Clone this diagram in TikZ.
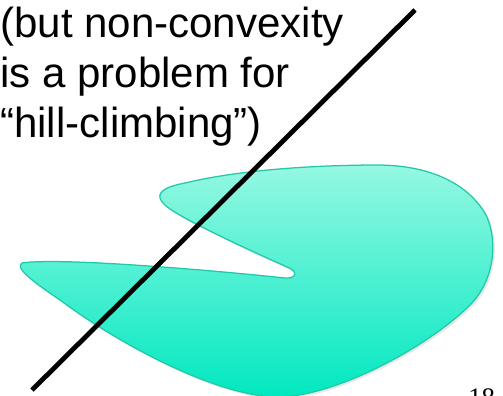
\documentclass[tikz,border=0pt]{standalone}
\usepackage{fontspec}
\setmainfont{Liberation Sans}
\newfontfamily\pagefont{Liberation Serif}
\usetikzlibrary{shadows}
\definecolor{Ink}{HTML}{000000}
\definecolor{AquaTop}{HTML}{95F8E2}
\definecolor{AquaBottom}{HTML}{00E8C0}
\definecolor{AquaEdge}{HTML}{22C9A8}
\tikzset{
  remark/.style={
    anchor=north west, inner sep=0pt, align=left, text=Ink,
    font=\fontsize{29.9}{35.6}\selectfont
  },
  blob/.style={
    draw=AquaEdge, line width=0.9pt, top color=AquaTop, bottom color=AquaBottom,
    drop shadow={opacity=0.18, shadow xshift=1.5pt, shadow yshift=-1.5pt}
  },
  cutline/.style={draw=Ink, line width=3.4pt},
  pagenum/.style={anchor=base west, inner sep=0pt, font=\pagefont\fontsize{19}{19}\selectfont}
}
\begin{document}
\begin{tikzpicture}[x=0.025cm,y=-0.025cm]
  \useasboundingbox (0,0) rectangle (503,395);
  \clip (0,0) rectangle (503,395);
  % the non-convex region
  \path[blob] (22,263)
    .. controls (60,257) and (220,271) .. (285,278)
    .. controls (297,279) and (298,271) .. (287,267)
    .. controls (240,246) and (176,216) .. (165,205)
    .. controls (155,196) and (158,188) .. (185,183)
    .. controls (230,172) and (300,165) .. (380,165)
    .. controls (440,166) and (472,190) .. (486,215)
    .. controls (498,240) and (495,280) .. (470,305)
    .. controls (430,345) and (340,395) .. (280,397)
    .. controls (220,398) and (120,345) .. (60,300)
    .. controls (35,283) and (14,268) .. (22,263) -- cycle;
  \node[remark] (note) at (0,7) {(but non-convexity\\is a problem for\\“hill-climbing”)};
  \coordinate (lineStart) at (32,390);
  \coordinate (lineEnd) at (415,10);
  \draw[cutline] (lineStart) -- (lineEnd);
  \node[pagenum] (page) at (468,406) {18};
\end{tikzpicture}
\end{document}
